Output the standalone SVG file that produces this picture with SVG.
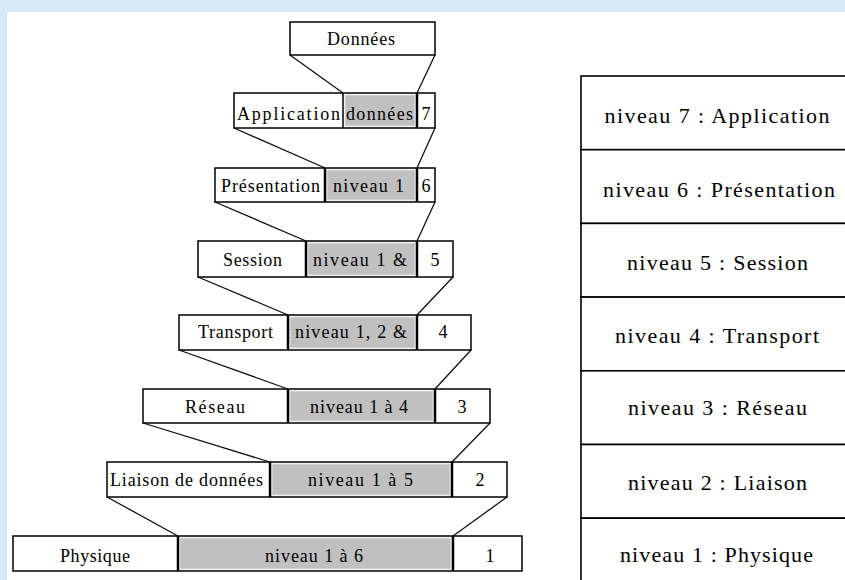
<svg xmlns="http://www.w3.org/2000/svg" width="845" height="580" viewBox="0 0 845 580">
<style>
.bg{fill:#d7e8f8}
.cell{fill:#fff;stroke:#000;stroke-width:1.5}
.gray{fill:#c0c0c0;stroke:#e2e2e2;stroke-width:1}
.div{stroke:#000;stroke-width:2.5}
.t{font-family:"Liberation Serif","Times New Roman",serif;font-size:18px;fill:#000;text-anchor:middle}
.tt{font-family:"Liberation Serif","Times New Roman",serif;font-size:22px;fill:#000;text-anchor:middle}
.conn line{stroke:#111;stroke-width:1.3}
.tab{fill:#fff;stroke:#000;stroke-width:1.6}
</style>
<rect x="0" y="0" width="845" height="580" class="bg"/>
<rect x="7" y="12" width="838" height="568" fill="#fff"/>

<g id="connectors" class="conn">
<line x1="290" y1="55" x2="343" y2="93"/><line x1="435" y1="55" x2="417" y2="93"/>
<line x1="234" y1="128" x2="325" y2="168"/><line x1="435" y1="128" x2="417" y2="168"/>
<line x1="215" y1="202" x2="306" y2="241"/><line x1="435" y1="202" x2="417" y2="241"/>
<line x1="198" y1="277" x2="288" y2="315"/><line x1="453" y1="277" x2="417" y2="315"/>
<line x1="179" y1="350" x2="288" y2="389"/><line x1="471" y1="350" x2="435" y2="389"/>
<line x1="143" y1="423" x2="270" y2="462"/><line x1="490" y1="423" x2="452" y2="462"/>
<line x1="107" y1="497" x2="178" y2="536"/><line x1="507" y1="497" x2="453" y2="536"/>
</g>

<g id="donnees">
<rect class="cell" x="290" y="22" width="145" height="33"/>
<text class="t" x="361" y="45" textLength="68">Données</text>
</g>

<g id="application">
<rect class="cell" x="234" y="93" width="201" height="35"/>
<rect class="gray" x="345" y="95" width="70" height="31"/>
<line class="div" x1="343" y1="93" x2="343" y2="128" style="stroke-width:1.5"/>
<line class="div" x1="417" y1="93" x2="417" y2="128"/>
<text class="t" x="288.5" y="120" textLength="103">Application</text>
<text class="t" x="379.5" y="120" textLength="67">données</text>
<text class="t" x="426" y="120">7</text>
</g>

<g id="presentation">
<rect class="cell" x="215" y="168" width="220" height="34"/>
<rect class="gray" x="327" y="170" width="88" height="30"/>
<line class="div" x1="325" y1="168" x2="325" y2="202"/>
<line class="div" x1="417" y1="168" x2="417" y2="202"/>
<text class="t" x="270.5" y="192" textLength="99">Présentation</text>
<text class="t" x="368.5" y="192" textLength="71">niveau 1</text>
<text class="t" x="426" y="192">6</text>
</g>

<g id="session">
<rect class="cell" x="198" y="241" width="255" height="36"/>
<rect class="gray" x="308" y="243" width="107" height="32"/>
<line class="div" x1="306" y1="241" x2="306" y2="277"/>
<line class="div" x1="417" y1="241" x2="417" y2="277"/>
<text class="t" x="252.5" y="266" textLength="59">Session</text>
<text class="t" x="360" y="266" textLength="94">niveau 1 &amp;</text>
<text class="t" x="435" y="266">5</text>
</g>

<g id="transport">
<rect class="cell" x="179" y="315" width="292" height="35"/>
<rect class="gray" x="290" y="317" width="125" height="31"/>
<line class="div" x1="288" y1="315" x2="288" y2="350"/>
<line class="div" x1="417" y1="315" x2="417" y2="350"/>
<text class="t" x="235.5" y="338" textLength="75">Transport</text>
<text class="t" x="351" y="338" textLength="112">niveau 1, 2 &amp;</text>
<text class="t" x="443" y="338">4</text>
</g>

<g id="reseau">
<rect class="cell" x="143" y="389" width="347" height="34"/>
<rect class="gray" x="290" y="391" width="143" height="30"/>
<line class="div" x1="288" y1="389" x2="288" y2="423"/>
<line class="div" x1="435" y1="389" x2="435" y2="423"/>
<text class="t" x="215" y="413" textLength="60">Réseau</text>
<text class="t" x="359" y="413" textLength="98">niveau 1 à 4</text>
<text class="t" x="462" y="413">3</text>
</g>

<g id="liaison">
<rect class="cell" x="107" y="462" width="400" height="35"/>
<rect class="gray" x="272" y="464" width="178" height="31"/>
<line class="div" x1="270" y1="462" x2="270" y2="497"/>
<line class="div" x1="452" y1="462" x2="452" y2="497"/>
<text class="t" x="186.5" y="486" textLength="153">Liaison de données</text>
<text class="t" x="360.5" y="486" textLength="105">niveau 1 à 5</text>
<text class="t" x="480" y="486">2</text>
</g>

<g id="physique">
<rect class="cell" x="13" y="536" width="509" height="35"/>
<rect class="gray" x="180" y="538" width="271" height="31"/>
<line class="div" x1="178" y1="536" x2="178" y2="571"/>
<line class="div" x1="453" y1="536" x2="453" y2="571"/>
<text class="t" x="95" y="562" textLength="70">Physique</text>
<text class="t" x="314" y="562" textLength="98">niveau 1 à 6</text>
<text class="t" x="490" y="562">1</text>
</g>

<g id="table">
<g id="t7"><rect class="tab" x="581" y="76" width="280" height="73.7"/><text class="tt" x="717" y="123" textLength="225">niveau 7 : Application</text></g>
<g id="t6"><rect class="tab" x="581" y="149.7" width="280" height="73.7"/><text class="tt" x="719" y="197" textLength="232">niveau 6 : Présentation</text></g>
<g id="t5"><rect class="tab" x="581" y="223.4" width="280" height="73.7"/><text class="tt" x="717.5" y="270" textLength="181">niveau 5 : Session</text></g>
<g id="t4"><rect class="tab" x="581" y="297.1" width="280" height="73.7"/><text class="tt" x="717" y="343" textLength="204">niveau 4 : Transport</text></g>
<g id="t3"><rect class="tab" x="581" y="370.8" width="280" height="73.7"/><text class="tt" x="717.5" y="415" textLength="179">niveau 3 : Réseau</text></g>
<g id="t2"><rect class="tab" x="581" y="444.5" width="280" height="73.7"/><text class="tt" x="717.5" y="490" textLength="179">niveau 2 : Liaison</text></g>
<g id="t1"><rect class="tab" x="581" y="518.2" width="280" height="73.7"/><text class="tt" x="716.5" y="562" textLength="193">niveau 1 : Physique</text></g>
</g>
</svg>
